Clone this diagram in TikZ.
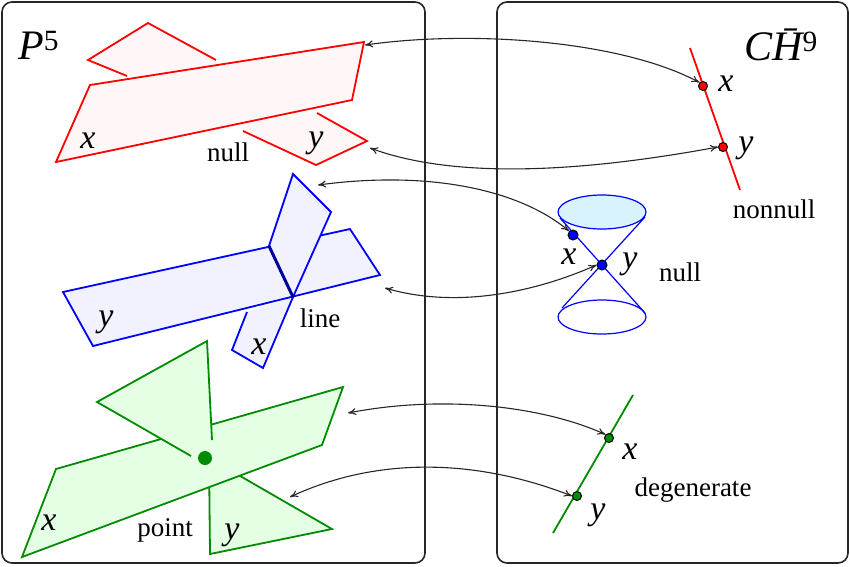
\documentclass[tikz,border=0pt]{standalone}
\usepackage{fontspec}
\setmainfont{Liberation Serif}
\usetikzlibrary{arrows.meta}
\begin{document}
\begin{tikzpicture}[x=1pt,y=-1pt,
  frame/.style={draw=black!85,line width=1.6pt,rounded corners=10pt},
  lbl/.style={font=\fontsize{27}{28}\selectfont,inner sep=0pt},
  var/.style={font=\fontsize{34}{34}\selectfont\itshape,inner sep=0pt},
  link/.style={draw=black!85,line width=1.1pt,{To[length=8pt,width=7pt]}-{To[length=8pt,width=7pt]}},
  redp/.style={draw=red,line width=1.8pt,fill=red!3},
  bluep/.style={draw=blue,line width=1.8pt,fill=blue!5},
  greenp/.style={draw=green!55!black,line width=1.8pt,fill=green!10},
  dotr/.style={circle,fill=red,draw=black,line width=1pt,inner sep=0pt,minimum size=9pt},
  dotb/.style={circle,fill=blue,draw=black,line width=1pt,inner sep=0pt,minimum size=10pt},
  dotg/.style={circle,fill=green!55!black,draw=black,line width=1pt,inner sep=0pt,minimum size=9pt}]
\useasboundingbox (0,0) rectangle (850,566);
\draw[frame] (2,2) rectangle (425,563);
\draw[frame] (497,2) rectangle (848,563);
\node[font=\fontsize{42}{42}\selectfont\itshape,anchor=west,inner sep=0pt] (tP) at (18,45) {P\textsuperscript{\upshape 5}};
\node[font=\fontsize{42}{42}\selectfont\itshape,anchor=east,inner sep=0pt] (tC) at (818,45) {C\=H\textsuperscript{\upshape 9}};
% red
\fill[red!3] (127,76) -- (88,60) -- (148,23) -- (216,60) -- (230,80) -- cycle;
\draw[red,line width=1.8pt] (127,76) -- (88,60) -- (148,23) -- (216,60);
\fill[red!3] (243,131) -- (316,165) -- (367,141) -- (317,113) -- (250,120) -- cycle;
\draw[red,line width=1.8pt] (243,131) -- (316,165) -- (367,141) -- (317,113);
\draw[redp] (90,85) -- (364,42) -- (352,100) -- (56,162) -- cycle;
\node[var] (rx) at (88,141) {x};
\node[lbl] (rnull) at (228,152) {null};
\node[var] (ry) at (316,143) {y};
% blue
\draw[bluep] (247,312) -- (232,350) -- (263,368) -- (293,297);
\draw[bluep] (63,292) -- (350,229) -- (380,275) -- (93,346) -- cycle;
\draw[bluep] (269,246) -- (293,174) -- (331,212) -- (293,297) -- cycle;
\draw[blue!60!black,line width=3pt] (269,246) -- (293,297);
\node[var] (by) at (106,322) {y};
\node[lbl] (bline) at (320,318) {line};
\node[var] (bx) at (259,347) {x};
% green
\draw[greenp] (209,458) -- (210,554) -- (332,529) -- cycle;
\draw[greenp] (56,469) -- (343,387) -- (322,445) -- (22,557) -- cycle;
\fill[green!10] (207,341) -- (97,402) -- (191,456) -- (212,440) -- cycle;
\draw[green!55!black,line width=1.8pt] (212,440) -- (207,341) -- (97,402) -- (191,456);
\fill[green!55!black] (205,458) circle (7);
\node[var] (gx) at (49,523) {x};
\node[lbl] (gpoint) at (165,530) {point};
\node[var] (gy) at (232,535) {y};
% right: red line
\draw[red,line width=1.8pt] (690,48) -- (740,190);
\node[dotr] (px1) at (703,86) {};
\node[dotr] (py1) at (723,147) {};
\node[var] at (726,84) {x};
\node[var] at (746,148) {y};
\node[lbl] at (774,209) {nonnull};
% cone
\draw[blue,line width=1.2pt,fill=cyan!15] (602,212) ellipse (44 and 17);
\draw[blue,line width=1.2pt] (602,317) ellipse (44 and 17);
\draw[blue,line width=1.2pt] (560,218) -- (645,313) (645,217) -- (562,308);
\node[dotb] (px2) at (573,235) {};
\node[dotb] (py2) at (602,265) {};
\node[var] at (569,257) {x};
\node[var] at (630,264) {y};
\node[lbl] at (680,272) {null};
% green line
\draw[green!55!black,line width=1.8pt] (633,395) -- (553,533);
\node[dotg] (px3) at (609,438) {};
\node[dotg] (py3) at (577,496) {};
\node[var] at (630,452) {x};
\node[lbl] at (693,490) {degenerate};
\node[var] at (598,515) {y};
% links
\coordinate (a1) at (365,45); \coordinate (a2) at (370,148);
\coordinate (a3) at (318,185); \coordinate (a4) at (385,288);
\coordinate (a5) at (348,413); \coordinate (a6) at (290,497);
\draw[link] (a1) .. controls (470,30) and (620,40) .. (px1.north west);
\draw[link] (a2) .. controls (470,185) and (620,165) .. (py1.west);
\draw[link] (a3) .. controls (430,170) and (520,190) .. (px2.north west);
\draw[link] (a4) .. controls (460,310) and (540,290) .. (py2.west);
\draw[link] (a5) .. controls (440,395) and (540,405) .. (px3.north west);
\draw[link] (a6) .. controls (380,455) and (480,460) .. (py3.west);
\end{tikzpicture}
\end{document}
